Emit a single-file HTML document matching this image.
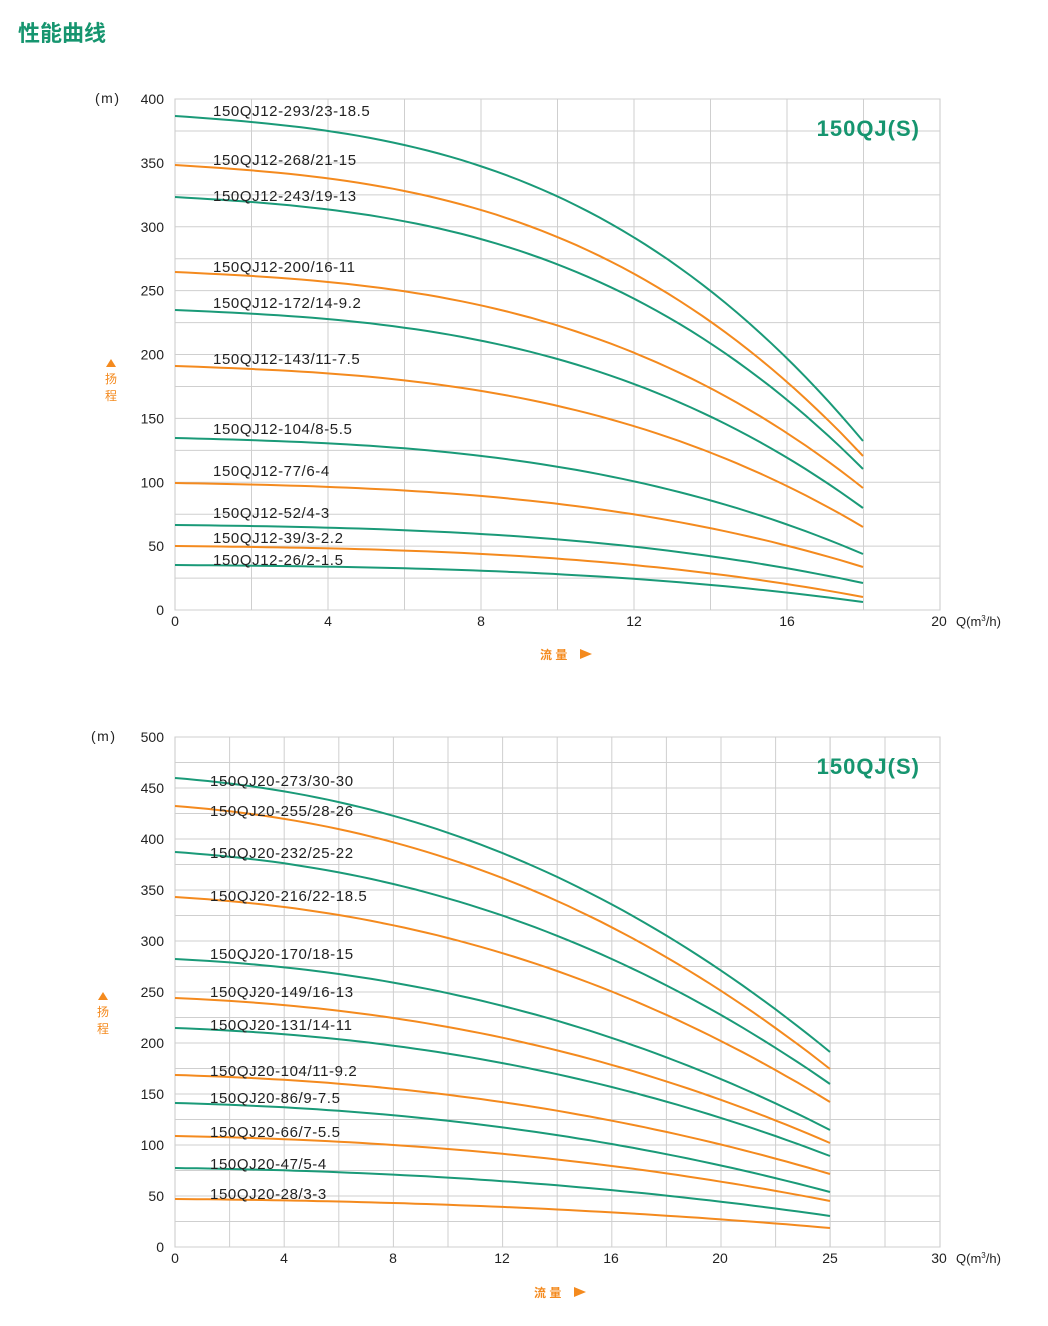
<!DOCTYPE html>
<html><head><meta charset="utf-8"><style>
body{margin:0;background:#fff;width:1048px;height:1326px;overflow:hidden}
svg{display:block}
text{font-family:"Liberation Sans","Noto Sans CJK SC",sans-serif}
</style></head><body>
<svg id="s" width="1048" height="1326" xmlns="http://www.w3.org/2000/svg">
<text x="18" y="41" font-size="22" font-weight="bold" fill="#16956f">性能曲线</text>
</svg>
<script>
const s=document.getElementById('s');let h='';
const G='#1a9a78',O='#f48a1e';
function chart(c){
 const {x0,x1,y0,y1,xl,yl,grid,ymax,ends,lbls,n,al,xe,title,ty}=c;
 h+=`<rect x="${x0}" y="${y0}" width="${x1-x0}" height="${y1-y0}" fill="none" stroke="#c8c8c8"/>`;
 grid.forEach(g=>h+=`<line x1="${g}" x2="${g}" y1="${y0}" y2="${y1}" stroke="#cfcfcf"/>`);
 for(let v=0;v<=ymax;v+=25){const y=y1-(y1-y0)*v/ymax;h+=`<line x1="${x0}" x2="${x1}" y1="${y}" y2="${y}" stroke="#cfcfcf"/>`;}
 for(let v=0;v<=ymax;v+=50){const y=y1-(y1-y0)*v/ymax;h+=`<text x="164" y="${y+5}" font-size="14" text-anchor="end" fill="#222">${v}</text>`;}
 xl.forEach(([v,x])=>h+=`<text x="${x}" y="${y1+16}" font-size="14" text-anchor="middle" fill="#222">${v}</text>`);
 h+=`<text x="956" y="${y1+16}" font-size="13" fill="#222">Q(m<tspan font-size="8" dy="-5">3</tspan><tspan dy="5">/h)</tspan></text>`;
 h+=`<text x="${yl}" y="${y0+4}" font-size="14" fill="#222" letter-spacing="1.5">(m)</text>`;
 h+=`<text x="${x1-20}" y="${ty}" font-size="22" font-weight="bold" text-anchor="end" fill="#16956f" letter-spacing="1">${title}</text>`;
 ends.forEach(([a,b,col],i)=>{let p='';for(let k=0;k<=60;k++){const t=k/60;const x=x0+(xe-x0)*t;const y=a+(b-a)*(al*t+(1-al)*Math.pow(t,n));p+=(k?'L':'M')+x.toFixed(1)+' '+y.toFixed(1);}
  h+=`<path d="${p}" fill="none" stroke="${col}" stroke-width="2"/>`;
  h+=`<text x="${lbls[0]}" y="${lbls[1][i]}" font-size="15" fill="#222" letter-spacing="0.6">${lbls[2][i]}</text>`;});
}
let g1=[];for(let q=2;q<20;q+=2)g1.push(175+38.25*q);
chart({x0:175,x1:940,y0:99,y1:610,ymax:400,grid:g1,xl:[[0,175],[4,328],[8,481],[12,634],[16,787],[20,939]],yl:95,n:2.8,al:0.15,xe:863,title:'150QJ(S)',ty:136,
 ends:[[116,441,G],[165,456,O],[197,469,G],[272,488,O],[310,508,G],[366,527,O],[438,554,G],[483,567,O],[525,583,G],[546,597,O],[565,602,G]],
 lbls:[213,[116,165,201,272,308,364,434,476,518,543,565],['150QJ12-293/23-18.5','150QJ12-268/21-15','150QJ12-243/19-13','150QJ12-200/16-11','150QJ12-172/14-9.2','150QJ12-143/11-7.5','150QJ12-104/8-5.5','150QJ12-77/6-4','150QJ12-52/4-3','150QJ12-39/3-2.2','150QJ12-26/2-1.5']]});
let g2=[];for(let q=2;q<=24;q+=2)g2.push(175+27.3*q);g2.push(830,885);
chart({x0:175,x1:940,y0:737,y1:1247,ymax:500,grid:g2,xl:[[0,175],[4,284],[8,393],[12,502],[16,611],[20,720],[25,830],[30,939]],yl:91,n:2.2,al:0.2,xe:830,title:'150QJ(S)',ty:774,
 ends:[[778,1052,G],[806,1069,O],[852,1084,G],[897,1102,O],[959,1130,G],[998,1143,O],[1028,1156,G],[1075,1174,O],[1103,1192,G],[1136,1201,O],[1168,1216,G],[1199,1228,O]],
 lbls:[210,[786,816,858,901,959,997,1030,1076,1103,1137,1169,1199],['150QJ20-273/30-30','150QJ20-255/28-26','150QJ20-232/25-22','150QJ20-216/22-18.5','150QJ20-170/18-15','150QJ20-149/16-13','150QJ20-131/14-11','150QJ20-104/11-9.2','150QJ20-86/9-7.5','150QJ20-66/7-5.5','150QJ20-47/5-4','150QJ20-28/3-3']]});
function ylab(x,y){h+=`<polygon points="${x},${y-8} ${x-5},${y} ${x+5},${y}" fill="${O}"/><text x="${x}" y="${y+16}" font-size="12" text-anchor="middle" fill="${O}">扬</text><text x="${x}" y="${y+33}" font-size="12" text-anchor="middle" fill="${O}">程</text>`;}
ylab(111,367);ylab(103,1000);
function xlab(x,y){h+=`<text x="${x}" y="${y}" font-size="12" font-weight="bold" fill="${O}">流 量</text><polygon points="${x+40},${y-10} ${x+52},${y-5} ${x+40},${y}" fill="${O}"/>`;}
xlab(540,659);xlab(534,1297);
s.insertAdjacentHTML('beforeend',h);
</script>
</body></html>
